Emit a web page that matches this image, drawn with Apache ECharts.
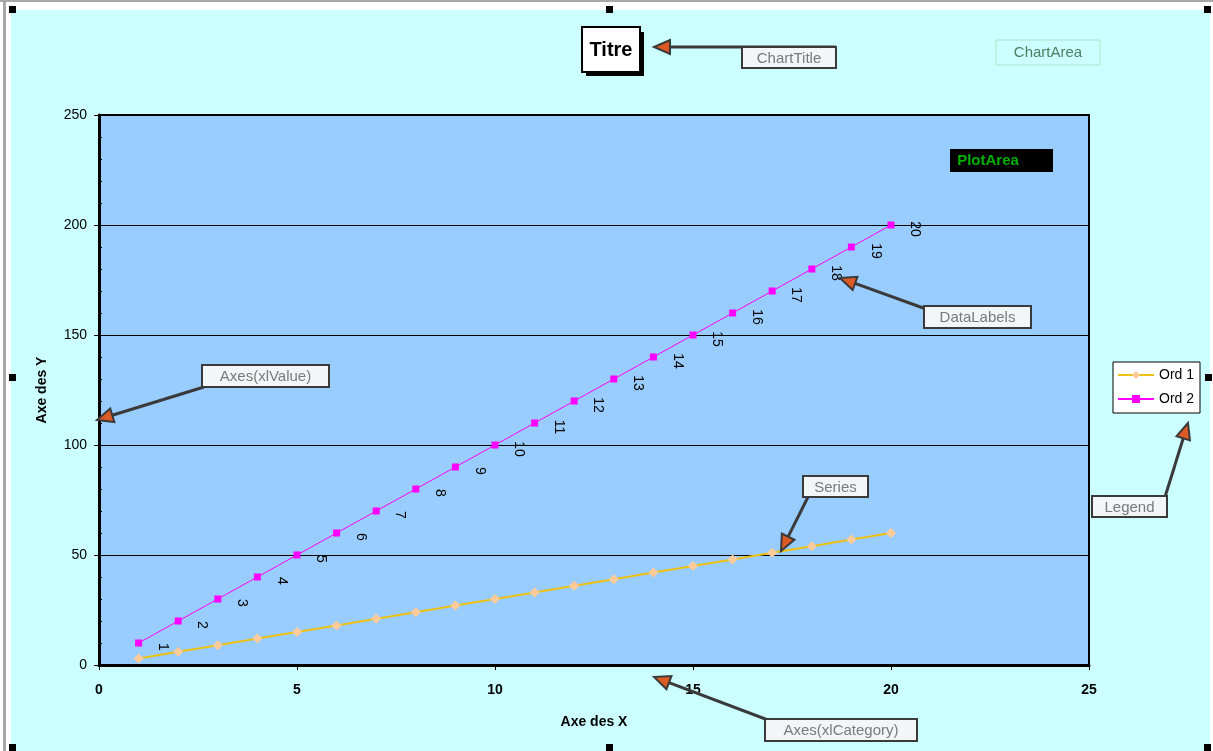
<!DOCTYPE html>
<html>
<head>
<meta charset="utf-8">
<script src="https://cdn.jsdelivr.net/npm/echarts@6/dist/echarts.min.js"></script>
<style>
html,body{margin:0;padding:0;background:#fff}
#main{width:1213px;height:751px}
</style>
</head>
<body>
<div id="main"></div>
<script>
// donnees
var xs = [1,2,3,4,5,6,7,8,9,10,11,12,13,14,15,16,17,18,19,20];
var ord1 = [3,6,9,12,15,18,21,24,27,30,33,36,39,42,45,48,51,54,57,60];
var ord2 = [10,20,30,40,50,60,70,80,90,100,110,120,130,140,150,160,170,180,190,200];
var seriesNames = ['Ord 1','Ord 2'];

var chart = echarts.init(document.getElementById('main'));
var FONT = '"Liberation Sans", Arial, sans-serif';

function pairs(ys){
	var out = [];
	for (var i=0;i<xs.length;i++){ out.push([xs[i], ys[i]]); }
	return out;
}

// petite boite + fleche
function callout(text, bx, by, bw, bh, tail, tip){
	var els = [];
	if (tip){
		var dx = tip[0]-tail[0], dy = tip[1]-tail[1];
		var len = Math.sqrt(dx*dx+dy*dy);
		var ux = dx/len, uy = dy/len, L = 16, w = 7;
		var cx = tip[0]-ux*L, cy = tip[1]-uy*L;
		els.push({type:'line', z:100, shape:{x1:tail[0],y1:tail[1],x2:cx,y2:cy},
			style:{stroke:'#3a3a3a', lineWidth:3}});
		els.push({type:'polygon', z:101, shape:{points:[[tip[0],tip[1]],[cx-uy*w,cy+ux*w],[cx+uy*w,cy-ux*w]]},
			style:{fill:'#DD5A24', stroke:'#3a3a3a', lineWidth:2}});
	}
	els.push({type:'rect', z:102, shape:{x:bx,y:by,width:bw,height:bh},
		style:{fill:'#F2F6F6', stroke:'#3a3a3a', lineWidth:2}});
	els.push({type:'text', z:103, style:{text:text, x:bx+bw/2, y:by+bh/2+1, fill:'#7a7a7a',
		font:'15px '+FONT, textAlign:'center', textVerticalAlign:'middle'}});
	return els;
}

function handle(x, y){
	return {type:'rect', z:110, shape:{x:x,y:y,width:7,height:7}, style:{fill:'#000'}};
}

var graphics = [
	// cadre
	{type:'rect', z:90, shape:{x:0,y:0,width:1213,height:10}, style:{fill:'#fff'}},
	{type:'rect', z:90, shape:{x:0,y:0,width:11,height:751}, style:{fill:'#fff'}},
	{type:'rect', z:90, shape:{x:1210,y:0,width:3,height:751}, style:{fill:'#fff'}},
	{type:'rect', z:91, shape:{x:0,y:0,width:1213,height:2}, style:{fill:'#a8a8a8'}},
	{type:'rect', z:91, shape:{x:3,y:0,width:3,height:751}, style:{fill:'#a8a8a8'}},
	handle(9,6), handle(606,6), handle(1204,6),
	handle(9,374), handle(1205,374),
	handle(9,744), handle(606,744), handle(1204,744),
	// titre
	{type:'rect', z:100, shape:{x:586,y:32,width:58,height:44}, style:{fill:'#000'}},
	{type:'rect', z:101, shape:{x:582,y:27,width:58,height:45}, style:{fill:'#fff', stroke:'#000', lineWidth:2}},
	{type:'text', z:102, style:{text:'Titre', x:611, y:50, fill:'#000', font:'bold 20px '+FONT,
		textAlign:'center', textVerticalAlign:'middle'}},
	// ChartArea
	{type:'rect', z:100, shape:{x:996,y:40,width:104,height:25}, style:{fill:'none', stroke:'#a6e6c8', lineWidth:1}},
	{type:'text', z:101, style:{text:'ChartArea', x:1048, y:53, fill:'#4f7d62', font:'15px '+FONT,
		textAlign:'center', textVerticalAlign:'middle'}},
	// PlotArea
	{type:'rect', z:100, shape:{x:950,y:149,width:103,height:23}, style:{fill:'#000'}},
	{type:'text', z:101, style:{text:'PlotArea', x:988, y:161, fill:'#00b000', font:'bold 15px '+FONT,
		textAlign:'center', textVerticalAlign:'middle'}}
];
graphics = graphics
	.concat(callout('ChartTitle', 742, 47, 94, 21, [836,47], [654,47]))
	.concat(callout('Axes(xlValue)', 202, 365, 127, 22, [204,387], [97,420]))
	.concat(callout('DataLabels', 924, 306, 107, 22, [926,309], [840,278]))
	.concat(callout('Series', 803, 476, 65, 21, [808,497], [781,551]))
	.concat(callout('Legend', 1092, 496, 75, 21, [1165,497], [1188,423]))
	.concat(callout('Axes(xlCategory)', 765, 719, 152, 22, [768,720], [654,677]));

var option = {
	animation: false,
	backgroundColor: '#CCFFFF',
	textStyle: {fontFamily: FONT},
	grid: {
		left: 99, top: 115, right: 124, bottom: 86,
		show: true, backgroundColor: '#99CCFF', borderColor: '#000', borderWidth: 2
	},
	legend: {
		orient: 'vertical', left: 1113, top: 362,
		data: seriesNames,
		backgroundColor: '#fff', borderColor: '#000', borderWidth: 1,
		padding: [6,6,7,4], itemGap: 10, itemWidth: 36, itemHeight: 10,
		textStyle: {color: '#000', fontSize: 14, fontFamily: FONT}
	},
	xAxis: {
		type: 'value', min: 0, max: 25, interval: 5,
		name: 'Axe des X', nameLocation: 'middle', nameGap: 50,
		nameTextStyle: {color: '#000', fontWeight: 'bold', fontSize: 14},
		axisLine: {lineStyle: {color: '#000', width: 3}},
		axisTick: {show: true, length: 5, lineStyle: {color: '#000', width: 1}},
		axisLabel: {color: '#000', fontWeight: 'bold', fontSize: 14, margin: 18},
		splitLine: {show: false}
	},
	yAxis: [{
		type: 'value', min: 0, max: 250, interval: 50,
		name: 'Axe des Y', nameLocation: 'middle', nameGap: 50,
		nameTextStyle: {color: '#000', fontWeight: 'bold', fontSize: 14},
		axisLine: {show: true, lineStyle: {color: '#000', width: 3}},
		axisTick: {show: true, length: 5, lineStyle: {color: '#000', width: 1}},
		axisLabel: {color: '#000', fontSize: 14, margin: 12},
		splitLine: {show: true, lineStyle: {color: '#000', width: 1}}
	}, {
		type: 'value', min: 0, max: 250, interval: 10, position: 'left',
		axisLine: {show: false},
		axisTick: {show: true, inside: true, length: 3, lineStyle: {color: '#000', width: 1}},
		axisLabel: {show: false},
		splitLine: {show: false}
	}],
	series: [{
		name: 'Ord 1', type: 'line', data: pairs(ord1),
		symbol: 'diamond', symbolSize: 10,
		lineStyle: {color: '#EEC014', width: 2},
		itemStyle: {color: '#FFCC99'}
	}, {
		name: 'Ord 2', type: 'line', data: pairs(ord2),
		symbol: 'rect', symbolSize: 7,
		lineStyle: {color: '#FF00FF', width: 1},
		itemStyle: {color: '#FF00FF'},
		label: {
			show: true, position: 'inside', rotate: -90, offset: [4, -24],
			color: '#000', fontSize: 14,
			formatter: function(p){ return p.value[0]; }
		}
	}],
	graphic: graphics
};
chart.setOption(option);
</script>
</body>
</html>
